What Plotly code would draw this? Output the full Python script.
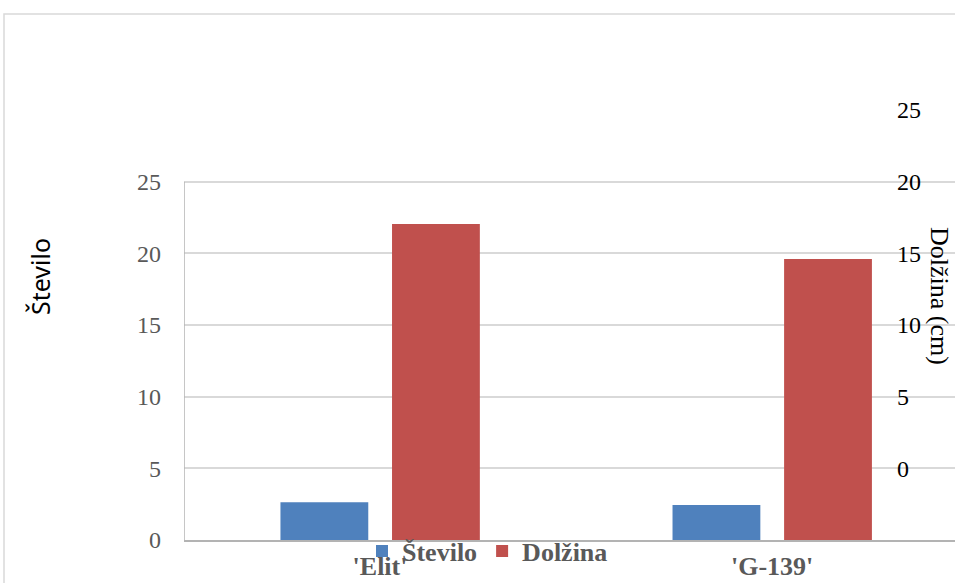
import plotly.graph_objects as go

categories = ["'Elit'", "'G-139'"]
stevilo = [2.63, 2.44]
dolzina = [17.05, 14.6]
left_ticks = [0, 5, 10, 15, 20, 25]
right_ticks = [0, 5, 10, 15, 20, 25]

W, H = 955, 583
RIGHT_BASE = -5  # minimum of the secondary axis, bars start there

BLUE = "#4F81BD"
RED = "#C0504D"
GRID = "#D9D9D9"
AXIS = "#B3B3B3"
GRAYTXT = "#595959"
SERIF = "'Liberation Serif', 'Times New Roman', Times, serif"
SANS = "'Noto Sans', 'Open Sans', sans-serif"

fig = go.Figure()
fig.add_trace(go.Bar(
    x=categories, y=stevilo, name="Število", marker=dict(color=BLUE, line=dict(width=0)),
    width=0.224, offset=-0.254, yaxis="y", hovertemplate="%{x}: %{y}<extra>Število</extra>",
))
fig.add_trace(go.Bar(
    x=categories, y=[d - RIGHT_BASE for d in dolzina], base=RIGHT_BASE, name="Dolžina",
    customdata=dolzina, marker=dict(color=RED, line=dict(width=0)),
    width=0.224, offset=0.0306, yaxis="y2", hovertemplate="%{x}: %{customdata}<extra>Dolžina</extra>",
))

x0 = 184 / W
ydom = [(H - 540) / H, (H - 110) / H]

fig.update_layout(
    width=W, height=H,
    margin=dict(l=0, r=0, t=0, b=0),
    paper_bgcolor="white", plot_bgcolor="white",
    barmode="overlay",
    font=dict(family=SERIF),
    xaxis=dict(
        domain=[x0, 1], range=[-0.5, 1.4665], type="category",
        showline=True, linecolor=AXIS, linewidth=1.5, showgrid=False, ticks="",
        tickfont=dict(family=SERIF, size=26, color=GRAYTXT, weight="bold"),
        ticklabelstandoff=2, automargin=False, fixedrange=True,
    ),
    yaxis=dict(
        domain=ydom, range=[0, 30], tickvals=left_ticks, showline=False,
        showgrid=True, gridcolor=GRID, gridwidth=1.5, zeroline=False, ticks="",
        tickfont=dict(family=SERIF, size=24, color=GRAYTXT),
        ticklabelstandoff=22, automargin=False, fixedrange=True,
    ),
    yaxis2=dict(
        overlaying="y", side="right", anchor="free", position=896 / W,
        range=[RIGHT_BASE, 25], tickvals=right_ticks, showgrid=False, zeroline=False,
        showline=False, ticks="", ticklabelposition="outside",
        tickfont=dict(family=SERIF, size=24, color="black"),
        automargin=False, fixedrange=True,
    ),
    legend=dict(
        orientation="h", x=362 / W, xanchor="left", y=(H - 551) / H, yanchor="middle",
        font=dict(family=SERIF, size=26, color=GRAYTXT, weight="bold"),
        bgcolor="rgba(0,0,0,0)", itemclick=False, itemdoubleclick=False,
        tracegroupgap=0,
    ),
    showlegend=True,
    annotations=[
        dict(text="Število", x=40 / W, y=(H - 277) / H, xref="paper", yref="paper",
             showarrow=False, textangle=-90, xanchor="center", yanchor="middle",
             font=dict(family=SANS, size=25, color="black")),
        dict(text="Dolžina (cm)", x=940 / W, y=(H - 296) / H, xref="paper", yref="paper",
             showarrow=False, textangle=90, xanchor="center", yanchor="middle",
             font=dict(family=SERIF, size=26, color="black")),
    ],
    shapes=[
        dict(type="rect", xref="paper", yref="paper", x0=4 / W, x1=1.05, y0=-0.05, y1=(H - 14) / H,
             line=dict(color=GRID, width=1.5), fillcolor="rgba(0,0,0,0)", layer="below"),
        dict(type="line", xref="x", yref="y", x0=-0.5, x1=-0.5, y0=0, y1=25,
             line=dict(color=AXIS, width=1.5)),
        dict(type="line", xref="paper", yref="y", x0=x0, x1=1, y0=25, y1=25,
             line=dict(color="#BFBFBF", width=1.5), layer="below"),
    ],
)

fig.write_html("out.html")
